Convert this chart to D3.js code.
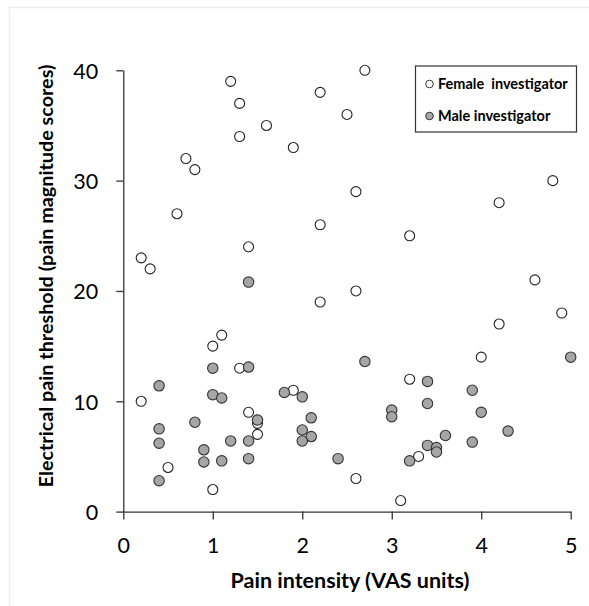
<!DOCTYPE html>
<html>
<head>
<meta charset="utf-8">
<script src="https://cdn.jsdelivr.net/npm/d3@7"></script>
<style>
  html, body { margin: 0; padding: 0; background: #fff; }
  svg { display: block; }
  text { font-family: Lato, "Open Sans", sans-serif; }
</style>
</head>
<body>
<svg id="chart" width="589" height="606"></svg>
<script>
// Female investigator: [pain intensity (VAS), electrical pain threshold]
const femaleX = [1.2, 2.2, 1.3, 2.5, 1.6, 1.3, 1.9, 0.7, 0.8, 0.6, 2.2, 1.4, 0.2, 0.3, 2.2,
                 2.7, 2.6, 4.8, 4.2, 3.2, 4.6, 2.6,
                 1.1, 1.0, 1.3, 0.2, 1.9, 1.4, 1.5, 1.5, 0.5, 1.0,
                 4.9, 4.2, 4.0, 3.2, 3.3, 2.6, 3.1];
const femaleY = [39, 38, 37, 36, 35, 34, 33, 32, 31, 27, 26, 24, 23, 22, 19,
                 40, 29, 30, 28, 25, 21, 20,
                 16, 15, 13, 10, 11, 9, 8, 7, 4, 2,
                 18, 17, 14, 12, 5, 3, 1];
// Male investigator
const maleX = [1.4, 1.4, 0.4, 1.0, 1.0, 1.1, 1.8, 2.0, 0.8, 1.5, 2.1, 0.4, 2.0, 2.1, 2.0,
               0.4, 1.2, 1.4, 0.9, 0.9, 1.1, 1.4, 2.4, 0.4,
               5.0, 2.7, 3.4, 3.9, 3.4, 3.0, 3.0, 4.0, 3.6, 4.3, 3.4, 3.5, 3.5, 3.9, 3.2];
const maleY = [20.8, 13.1, 11.4, 13.0, 10.6, 10.3, 10.8, 10.4, 8.1, 8.3, 8.5, 7.5, 7.4, 6.8, 6.4,
               6.2, 6.4, 6.4, 5.6, 4.5, 4.6, 4.8, 4.8, 2.8,
               14.0, 13.6, 11.8, 11.0, 9.8, 9.2, 8.6, 9.0, 6.9, 7.3, 6.0, 5.8, 5.4, 6.3, 4.6];

const xTicks = [0, 1, 2, 3, 4, 5];
const yTicks = [0, 10, 20, 30, 40];
const seriesNames = ["Female  investigator", "Male investigator"];
const seriesFill = ["#ffffff", "#a6a6a6"];

const svg = d3.select("#chart");

// light outer frame
svg.append("path")
  .attr("d", "M9.5,606 L9.5,7.5 L589,7.5")
  .attr("fill", "none").attr("stroke", "#ececec").attr("stroke-width", 1.5);

const x = d3.scaleLinear().domain([0, 5]).range([123.3, 570.7]);
const y = d3.scaleLinear().domain([0, 40]).range([511.6, 70.3]);

// axes
const xAxis = svg.append("g")
  .attr("transform", `translate(0,${y(0)})`)
  .call(d3.axisBottom(x).tickValues(xTicks).tickFormat(d3.format("d")).tickSize(8).tickSizeOuter(0).tickPadding(26));
const yAxis = svg.append("g")
  .attr("transform", `translate(${x(0)},0)`)
  .call(d3.axisLeft(y).tickValues(yTicks).tickFormat(d3.format("d")).tickSize(7).tickSizeOuter(0).tickPadding(18));

[xAxis, yAxis].forEach(g => {
  g.select(".domain").attr("stroke", "#333").attr("stroke-width", 1.3);
  g.selectAll(".tick line").attr("stroke", "#333").attr("stroke-width", 1.3);
  g.selectAll(".tick text")
    .attr("fill", "#000")
    .style("font-family", "Lato, 'Open Sans', sans-serif")
    .style("font-size", "21.5px");
});
xAxis.selectAll(".tick text").attr("dy", "0.36em");
yAxis.selectAll(".tick text").attr("dy", "0.36em");

// axis titles
svg.append("text")
  .attr("x", 350).attr("y", 588)
  .attr("text-anchor", "middle")
  .style("font-size", "21.5px").style("font-weight", "bold")
  .text("Pain intensity (VAS units)");

svg.append("text")
  .attr("transform", "translate(53,276) rotate(-90)")
  .attr("text-anchor", "middle")
  .style("font-size", "19.8px").style("font-weight", "bold")
  .text("Electrical pain threshold (pain magnitude scores)");

// points
const female = femaleX.map((v, i) => ({ x: v, y: femaleY[i] }));
const male = maleX.map((v, i) => ({ x: v, y: maleY[i] }));

svg.append("g").selectAll("circle").data(female).join("circle")
  .attr("cx", d => x(d.x)).attr("cy", d => y(d.y)).attr("r", 5)
  .attr("fill", seriesFill[0]).attr("stroke", "#222").attr("stroke-width", 1.1);

svg.append("g").selectAll("circle").data(male).join("circle")
  .attr("cx", d => x(d.x)).attr("cy", d => y(d.y)).attr("r", 5.2)
  .attr("fill", seriesFill[1]).attr("stroke", "#333").attr("stroke-width", 1.1);

// legend
const lg = svg.append("g");
lg.append("rect")
  .attr("x", 415.5).attr("y", 66).attr("width", 161).attr("height", 66)
  .attr("fill", "#fff").attr("stroke", "#333").attr("stroke-width", 1.2);
seriesNames.forEach((name, i) => {
  const cy = 84 + i * 32;
  lg.append("circle").attr("cx", 429.5).attr("cy", cy).attr("r", 3.8)
    .attr("fill", seriesFill[i]).attr("stroke", "#333").attr("stroke-width", 1);
  lg.append("text").attr("x", 438).attr("y", cy + 5)
    .style("font-size", "14.5px").style("font-weight", "bold")
    .style("white-space", "pre")
    .text(name);
});
</script>
</body>
</html>
